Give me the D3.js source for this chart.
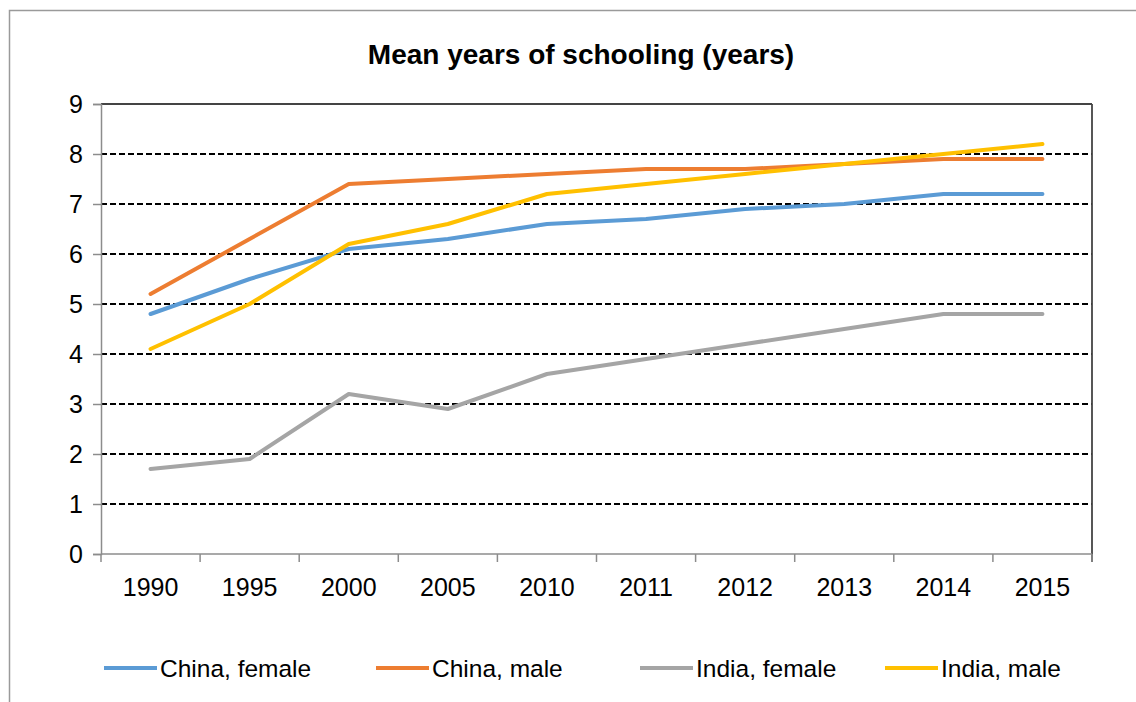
<!DOCTYPE html>
<html>
<head>
<meta charset="utf-8">
<script src="https://cdn.jsdelivr.net/npm/d3@7"></script>
<style>
  html, body { margin: 0; padding: 0; background: #fff; }
  svg { display: block; font-family: "Liberation Sans", Arial, sans-serif; }
</style>
</head>
<body>
<svg id="chart" width="1136" height="702"></svg>
<script>
const title = "Mean years of schooling (years)";
const years = ["1990", "1995", "2000", "2005", "2010", "2011", "2012", "2013", "2014", "2015"];
const seriesNames = ["China, female", "China, male", "India, female", "India, male"];
const chinaFemale = [4.8, 5.5, 6.1, 6.3, 6.6, 6.7, 6.9, 7.0, 7.2, 7.2];
const chinaMale   = [5.2, 6.3, 7.4, 7.5, 7.6, 7.7, 7.7, 7.8, 7.9, 7.9];
const indiaFemale = [1.7, 1.9, 3.2, 2.9, 3.6, 3.9, 4.2, 4.5, 4.8, 4.8];
const indiaMale   = [4.1, 5.0, 6.2, 6.6, 7.2, 7.4, 7.6, 7.8, 8.0, 8.2];
const yTicks = [0, 1, 2, 3, 4, 5, 6, 7, 8, 9];
const colors = ["#5B9BD5", "#ED7D31", "#A5A5A5", "#FFC000"];

const series = [chinaFemale, chinaMale, indiaFemale, indiaMale].map((v, i) => ({
  name: seriesNames[i], color: colors[i], values: v
}));

const svg = d3.select("#chart");
const mLeft = 101, mRight = 1092, mTop = 104, mBottom = 554;

// outer chart border
svg.append("rect").attr("x", 9.5).attr("y", 10.5).attr("width", 1140).attr("height", 700)
  .attr("fill", "#fff").attr("stroke", "#9a9a9a").attr("stroke-width", 1.5);

const x = d3.scaleBand().domain(years).range([mLeft, mRight]);
const y = d3.scaleLinear().domain([0, 9]).range([mBottom, mTop]);

// title
svg.append("text").attr("x", 581).attr("y", 64).attr("text-anchor", "middle")
  .attr("font-size", 28).attr("font-weight", "bold").attr("fill", "#000").text(title);

// gridlines (dashed), excluding 0 and 9
svg.append("g").selectAll("line").data(yTicks.filter(d => d > 0 && d < 9)).join("line")
  .attr("x1", mLeft).attr("x2", mRight)
  .attr("y1", d => y(d)).attr("y2", d => y(d))
  .attr("stroke", "#000").attr("stroke-width", 1.8).attr("stroke-dasharray", "6,3");

// plot frame top and right
svg.append("line").attr("x1", mLeft).attr("x2", mRight).attr("y1", y(9)).attr("y2", y(9))
  .attr("stroke", "#444").attr("stroke-width", 1.8);
svg.append("line").attr("x1", mRight).attr("x2", mRight).attr("y1", y(9)).attr("y2", mBottom + 8)
  .attr("stroke", "#444").attr("stroke-width", 1.8);

// y axis
const yAxis = svg.append("g").attr("transform", `translate(${mLeft},0)`)
  .call(d3.axisLeft(y).tickValues(yTicks).tickSize(8).tickPadding(10).tickFormat(d3.format("d")));
yAxis.select(".domain").attr("stroke", "#8c8c8c").attr("stroke-width", 1.5);
yAxis.selectAll(".tick line").attr("stroke", "#8c8c8c").attr("stroke-width", 1.5);
yAxis.selectAll(".tick text").attr("font-size", 25).attr("fill", "#000")
  .attr("font-family", "Liberation Sans, Arial, sans-serif");

// x axis: ticks at category boundaries
const xAxisG = svg.append("g").attr("transform", `translate(0,${mBottom})`);
xAxisG.append("line").attr("x1", mLeft).attr("x2", mRight).attr("y1", 0).attr("y2", 0)
  .attr("stroke", "#8c8c8c").attr("stroke-width", 1.5);
const boundaries = years.map(d => x(d)).concat([x(years[years.length - 1]) + x.bandwidth()]);
xAxisG.selectAll("line.tk").data(boundaries).join("line").attr("class", "tk")
  .attr("x1", d => d).attr("x2", d => d).attr("y1", 0).attr("y2", 8)
  .attr("stroke", "#8c8c8c").attr("stroke-width", 1.5);
xAxisG.selectAll("text").data(years).join("text")
  .attr("x", d => x(d) + x.bandwidth() / 2).attr("y", 42)
  .attr("text-anchor", "middle").attr("font-size", 25).attr("fill", "#000").text(d => d);

// lines
const line = d3.line().x((d, i) => x(years[i]) + x.bandwidth() / 2).y(d => y(d));
svg.append("g").selectAll("path").data(series).join("path")
  .attr("d", d => line(d.values)).attr("fill", "none")
  .attr("stroke", d => d.color).attr("stroke-width", 4)
  .attr("stroke-linejoin", "round").attr("stroke-linecap", "round");

// legend
const legendX = [104, 376, 640, 885];
const lg = svg.append("g").selectAll("g").data(series).join("g")
  .attr("transform", (d, i) => `translate(${legendX[i]},668)`);
lg.append("line").attr("x1", 0).attr("x2", 53).attr("y1", 0).attr("y2", 0)
  .attr("stroke", d => d.color).attr("stroke-width", 4);
lg.append("text").attr("x", 56).attr("y", 9).attr("font-size", 24.5).attr("fill", "#000")
  .text(d => d.name);
</script>
</body>
</html>
